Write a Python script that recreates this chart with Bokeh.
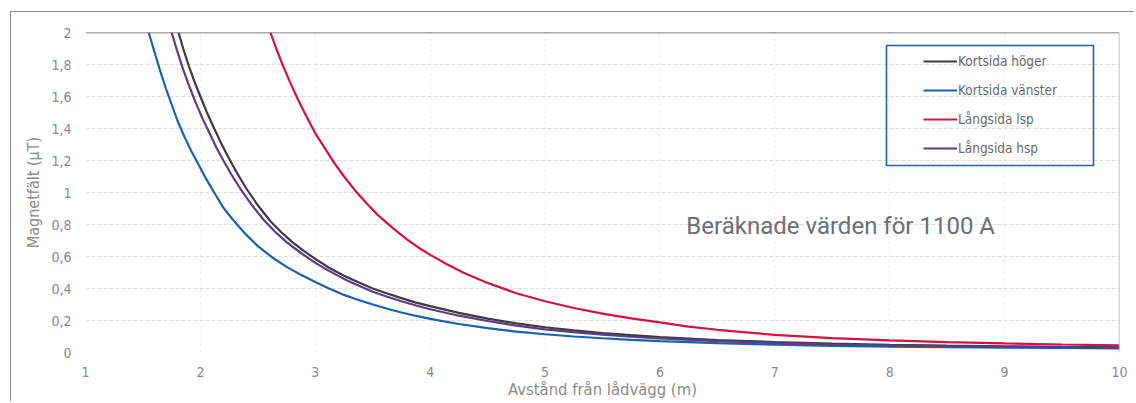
from bokeh.plotting import figure
from bokeh.models import (Span, Label, Legend, LegendItem, BoxAnnotation,
                          CustomJSTickFormatter, FixedTicker, Range1d)
from bokeh.embed import file_html
from bokeh.resources import INLINE

# ---- data ----
x_ticks = [1, 2, 3, 4, 5, 6, 7, 8, 9, 10]
y_ticks = [0, 0.2, 0.4, 0.6, 0.8, 1.0, 1.2, 1.4, 1.6, 1.8, 2.0]

hoger_x = [1.81, 1.85, 1.9, 1.95, 2.0, 2.06, 2.12, 2.18, 2.24, 2.32, 2.4, 2.5, 2.61, 2.7, 2.8, 2.9,
           3.0, 3.12, 3.25, 3.37, 3.5, 3.62, 3.75, 3.87, 4.0, 4.25, 4.5, 4.75, 5.0, 5.25, 5.5, 5.75,
           6.0, 6.5, 7.0, 7.5, 8.0, 8.5, 9.0, 9.5, 10.0]
hoger_y = [2.0, 1.90, 1.79, 1.69, 1.60, 1.495, 1.40, 1.31, 1.225, 1.12, 1.025, 0.92, 0.82, 0.755, 0.69, 0.635,
           0.585, 0.53, 0.48, 0.44, 0.40, 0.37, 0.34, 0.313, 0.29, 0.248, 0.212, 0.182, 0.158, 0.138, 0.122, 0.108,
           0.096, 0.078, 0.065, 0.055, 0.048, 0.043, 0.039, 0.035, 0.032]

vanster_x = [1.55, 1.6, 1.65, 1.7, 1.75, 1.8, 1.86, 1.92, 1.98, 2.05, 2.12, 2.2, 2.3, 2.4, 2.5, 2.62,
             2.75, 2.87, 3.0, 3.12, 3.25, 3.37, 3.5, 3.62, 3.75, 3.87, 4.0, 4.25, 4.5, 4.75, 5.0, 5.25,
             5.5, 5.75, 6.0, 6.5, 7.0, 7.5, 8.0, 8.5, 9.0, 9.5, 10.0]
vanster_y = [2.0, 1.88, 1.76, 1.65, 1.55, 1.45, 1.35, 1.26, 1.18, 1.085, 1.0, 0.905, 0.815, 0.735, 0.665, 0.597,
             0.535, 0.487, 0.44, 0.40, 0.36, 0.33, 0.30, 0.275, 0.25, 0.23, 0.21, 0.178, 0.152, 0.131, 0.114, 0.10,
             0.089, 0.079, 0.071, 0.058, 0.049, 0.042, 0.037, 0.033, 0.03, 0.028, 0.026]

lsp_x = [2.61, 2.66, 2.72, 2.78, 2.85, 2.92, 3.0, 3.08, 3.16, 3.25, 3.35, 3.45, 3.55, 3.67, 3.8, 3.9,
         4.0, 4.15, 4.3, 4.5, 4.75, 5.0, 5.25, 5.5, 5.75, 6.0, 6.25, 6.5, 6.75, 7.0, 7.5, 8.0,
         8.5, 9.0, 9.5, 10.0]
lsp_y = [2.0, 1.9, 1.79, 1.69, 1.58, 1.48, 1.37, 1.28, 1.19, 1.10, 1.01, 0.93, 0.855, 0.78, 0.705, 0.655,
         0.61, 0.55, 0.495, 0.435, 0.37, 0.32, 0.278, 0.243, 0.213, 0.188, 0.162, 0.142, 0.126, 0.11, 0.09, 0.076,
         0.065, 0.057, 0.05, 0.044]

hsp_x = [1.75, 1.8, 1.85, 1.9, 1.96, 2.02, 2.08, 2.14, 2.2, 2.28, 2.36, 2.45, 2.55, 2.65, 2.75, 2.87,
         3.0, 3.12, 3.25, 3.37, 3.5, 3.62, 3.75, 3.87, 4.0, 4.25, 4.5, 4.75, 5.0, 5.25, 5.5, 5.75,
         6.0, 6.5, 7.0, 7.5, 8.0, 8.5, 9.0, 9.5, 10.0]
hsp_y = [2.0, 1.88, 1.77, 1.67, 1.56, 1.46, 1.37, 1.28, 1.2, 1.10, 1.01, 0.92, 0.83, 0.755, 0.69, 0.625,
         0.56, 0.51, 0.46, 0.42, 0.38, 0.35, 0.32, 0.295, 0.27, 0.23, 0.197, 0.168, 0.145, 0.127, 0.112, 0.099,
         0.088, 0.071, 0.059, 0.05, 0.044, 0.039, 0.035, 0.032, 0.03]

names = ["Kortsida höger", "Kortsida vänster", "Långsida lsp", "Långsida hsp"]
colors = ["#3c3c3c", "#1762ab", "#d3123f", "#5b3b8c"]

FONT = "'Liberation Sans Narrow', 'DejaVu Sans Condensed', 'Roboto', sans-serif"
GRAY = "#8a8a8a"

p = figure(width=1124, height=390, output_backend="svg", toolbar_location=None,
           x_range=Range1d(1, 10), y_range=Range1d(0, 2),
           min_border_left=74, min_border_right=16, min_border_top=20, min_border_bottom=50)
p.styles = {"margin-left": "10px", "margin-top": "11px",
            "border-left": "1.5px solid #8c8c8c", "border-top": "1.5px solid #8c8c8c"}
p.outline_line_color = None
p.background_fill_color = "white"
p.border_fill_color = "white"

# axes
p.xaxis.ticker = FixedTicker(ticks=x_ticks)
p.yaxis.ticker = FixedTicker(ticks=y_ticks)
p.yaxis.formatter = CustomJSTickFormatter(code="return tick.toFixed(1).replace('.', ',').replace(',0', '');")
for ax in (p.xaxis, p.yaxis):
    ax.axis_line_color = None
    ax.major_tick_line_color = None
    ax.minor_tick_line_color = None
    ax.major_tick_out = 0
    ax.major_tick_in = 0
    ax.minor_tick_out = 0
    ax.minor_tick_in = 0
    ax.major_label_text_font = FONT
    ax.major_label_text_font_size = "14px"
    ax.major_label_text_color = GRAY
    ax.axis_label_text_font = FONT
    ax.axis_label_text_font_style = "normal"
    ax.axis_label_text_color = GRAY
p.xaxis.major_label_standoff = 14
p.yaxis.major_label_standoff = 14
p.xaxis.axis_label = "Avstånd från lådvägg (m)"
p.xaxis.axis_label_text_font_size = "16.5px"
p.xaxis.axis_label_standoff = 0
p.yaxis.axis_label = "Magnetfält (µT)"
p.yaxis.axis_label_text_font_size = "16px"
p.yaxis.axis_label_standoff = 5

# grid
p.xgrid.grid_line_color = "#ececec"
p.xgrid.grid_line_dash = "3 3"
p.ygrid.grid_line_color = "#dedede"
p.ygrid.grid_line_dash = "4 2"

# frame lines
p.add_layout(Span(location=2, dimension="width", line_color="#5a5a5a", line_width=1.6))
p.add_layout(Span(location=10, dimension="height", line_color="#b0b0b0", line_width=1.5))

# curves
series = [(hoger_x, hoger_y), (vanster_x, vanster_y), (lsp_x, lsp_y), (hsp_x, hsp_y)]
renderers = []
for (xs, ys), c in zip(series, colors):
    r = p.line(xs, ys, line_color=c, line_width=2.2)
    renderers.append(r)

# legend
items = [LegendItem(label=n, renderers=[r]) for n, r in zip(names, renderers)]
legend = Legend(items=items, location="top_right", margin=21, padding=9, spacing=13,
                glyph_width=34, glyph_height=14, label_height=14, label_standoff=1, label_width=140,
                label_text_font=FONT, label_text_font_size="13.5px", label_text_color="#6a6a6a",
                border_line_color=None, background_fill_alpha=0)
p.add_layout(legend)
p.add_layout(BoxAnnotation(left=874, right=1081, top=32, bottom=152,
                           left_units="canvas", right_units="canvas",
                           top_units="canvas", bottom_units="canvas",
                           fill_alpha=0, line_color="#1f5fa8", line_alpha=1, line_width=1.6))

# annotation
p.add_layout(Label(x=6.23, y=0.79, text="Beräknade värden för 1100 A", text_baseline="middle",
                   text_font="Roboto", text_font_size="24px", text_color="#6b6e78"))

open("out.html", "w").write(file_html(p, INLINE))
